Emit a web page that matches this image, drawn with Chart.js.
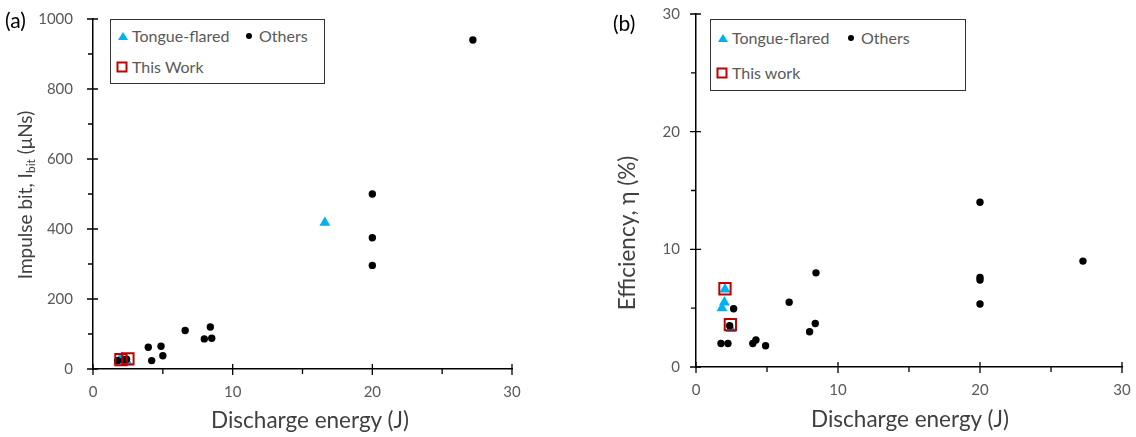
<!DOCTYPE html>
<html lang="en">
<head>
  <meta charset="UTF-8" />
  <title>Discharge energy scatter</title>
  <script src="https://cdn.jsdelivr.net/npm/chart.js"></script>
  <style>
    body { margin: 0; background: #fff; width: 1136px; height: 437px; overflow: hidden; position: relative; font-family: Lato, sans-serif; }
    canvas { position: absolute; top: 0; display: block; }
    .abs { position: absolute; white-space: nowrap; line-height: 1; }
    .panel { color: #000; font-size: 21px; }
    .ytitle { color: #404040; transform: translate(-50%, -50%) rotate(-90deg); }
    .ytitle sub { font-size: 12px; vertical-align: -3px; }
    .xtitle { color: #404040; font-size: 22.5px; transform: translate(-50%, -50%); }
    .box { position: absolute; border: 1.5px solid #333; background: #fff; box-sizing: border-box; }
    .leg { color: #595959; font-size: 16px; transform: translateY(-50%); }
    .tri { position: absolute; width: 0; height: 0; border-left: 5px solid transparent; border-right: 5px solid transparent; border-bottom: 8px solid #00B0F0; transform: translate(-50%, -50%); }
    .dot { position: absolute; width: 6px; height: 6px; border-radius: 50%; background: #000; transform: translate(-50%, -50%); }
    .sq { position: absolute; width: 11px; height: 11px; border: 2px solid #C00000; box-sizing: border-box; transform: translate(-50%, -50%); }
  </style>
</head>
<body>
  <canvas id="chartA" width="560" height="437" style="left:0"></canvas>
  <canvas id="chartB" width="536" height="437" style="left:600px"></canvas>

  <div class="abs panel" style="left:5px;top:9px">(a)</div>
  <div class="abs panel" style="left:613px;top:12px">(b)</div>

  <div class="abs ytitle" style="left:26px;top:195px;font-size:19px">Impulse bit, I<sub>bit</sub> (μNs)</div>
  <div class="abs ytitle" style="left:627px;top:233px;font-size:22.5px">Efficiency, η (%)</div>
  <div class="abs xtitle" style="left:310px;top:420px">Discharge energy (J)</div>
  <div class="abs xtitle" style="left:910px;top:419px">Discharge energy (J)</div>

  <div class="box" style="left:110px;top:19px;width:215px;height:65px"></div>
  <div class="tri" style="left:123px;top:36px"></div>
  <div class="abs leg" style="left:132px;top:36px">Tongue-flared</div>
  <div class="dot" style="left:249px;top:36px"></div>
  <div class="abs leg" style="left:259px;top:36px">Others</div>
  <div class="sq" style="left:122px;top:67px"></div>
  <div class="abs leg" style="left:132px;top:67px">This Work</div>

  <div class="box" style="left:710px;top:19px;width:256px;height:72px"></div>
  <div class="tri" style="left:723px;top:38px"></div>
  <div class="abs leg" style="left:732px;top:38px">Tongue-flared</div>
  <div class="dot" style="left:851px;top:38px"></div>
  <div class="abs leg" style="left:861px;top:38px">Others</div>
  <div class="sq" style="left:722px;top:73px"></div>
  <div class="abs leg" style="left:732px;top:73px">This work</div>

  <script>
    // tick labels
    const energyTicks = [0, 10, 20, 30];
    const impulseTicks = [0, 200, 400, 600, 800, 1000];
    const efficiencyTicks = [0, 10, 20, 30];

    // (a) impulse bit vs discharge energy
    const othersEnergyA = [1.76, 2.25, 2.4, 3.96, 4.2, 4.87, 5.0, 6.6, 7.97, 8.4, 8.5, 20, 20, 20, 27.2];
    const othersImpulse = [24, 26, 28, 62, 24, 65, 38, 110, 86, 120, 88, 500, 375, 296, 940];
    const tongueEnergyA = [1.83, 2.0, 2.04, 2.46, 16.6];
    const tongueImpulse = [22, 28, 32, 20, 418];
    const thisWorkEnergyA = [2.0, 2.5];
    const thisWorkImpulse = [27, 29];

    // (b) efficiency vs discharge energy
    const othersEnergyB = [1.76, 2.25, 2.37, 2.65, 4.0, 4.22, 4.9, 6.56, 8.0, 8.4, 8.45, 20, 20, 20, 20, 27.25];
    const othersEfficiency = [2.0, 2.0, 3.5, 4.95, 2.0, 2.3, 1.8, 5.5, 3.0, 3.7, 8.0, 14.0, 7.6, 7.4, 5.35, 9.0];
    const tongueEnergyB = [2.04, 2.0, 1.83, 2.46];
    const tongueEfficiency = [6.6, 5.5, 5.0, 3.25];
    const thisWorkEnergyB = [2.04, 2.42];
    const thisWorkEfficiency = [6.65, 3.6];

    function toPoints(xs, ys) {
      return xs.map((x, i) => ({ x: x, y: ys[i] }));
    }

    // first dataset is painted on top
    function makeDatasets(others, tongue, thisWork) {
      return [
        { label: 'This Work', data: thisWork, pointStyle: 'rect', pointRadius: 8, backgroundColor: 'rgba(0,0,0,0)', borderColor: '#C00000', borderWidth: 2 },
        { label: 'Others', data: others, pointStyle: 'circle', pointRadius: 3.7, backgroundColor: '#000', borderColor: '#000', borderWidth: 0 },
        { label: 'Tongue-flared', data: tongue, pointStyle: 'triangle', pointRadius: 6.3, backgroundColor: '#00B0F0', borderColor: '#00B0F0', borderWidth: 0 }
      ];
    }

    // major ticks cross the axis, minor ticks sit outside only
    const axisTicks = {
      id: 'axisTicks',
      afterDraw(chart) {
        const ctx = chart.ctx;
        const xs = chart.scales.x, ys = chart.scales.y;
        const axisY = ys.getPixelForValue(ys.min);
        const axisX = xs.getPixelForValue(xs.min);
        ctx.save();
        ctx.strokeStyle = '#000';
        ctx.lineWidth = 1.3;
        ctx.beginPath();
        const xv = xs.ticks.map(t => t.value);
        xv.forEach((v, i) => {
          const px = xs.getPixelForValue(v);
          ctx.moveTo(px, axisY - 5); ctx.lineTo(px, axisY + 6);
          if (i < xv.length - 1) {
            const mx = xs.getPixelForValue((v + xv[i + 1]) / 2);
            ctx.moveTo(mx, axisY); ctx.lineTo(mx, axisY + 5);
          }
        });
        const yv = ys.ticks.map(t => t.value);
        yv.forEach((v, i) => {
          const py = ys.getPixelForValue(v);
          ctx.moveTo(axisX - 6, py); ctx.lineTo(axisX + 5, py);
          if (i < yv.length - 1) {
            const my = ys.getPixelForValue((v + yv[i + 1]) / 2);
            ctx.moveTo(axisX - 5, my); ctx.lineTo(axisX, my);
          }
        });
        ctx.stroke();
        ctx.restore();
      }
    };

    function makeChart(id, datasets, yTicks, yMax, opts) {
      return new Chart(document.getElementById(id), {
        type: 'scatter',
        data: { datasets: datasets },
        options: {
          responsive: false,
          animation: false,
          devicePixelRatio: 1,
          layout: { padding: { top: opts.top, right: opts.right, left: 0, bottom: 0 } },
          plugins: { legend: { display: false }, tooltip: { enabled: false } },
          scales: {
            x: {
              type: 'linear', min: 0, max: 30,
              afterBuildTicks: s => { s.ticks = energyTicks.map(v => ({ value: v })); },
              afterFit: s => { s.height = opts.xHeight; s.paddingLeft = 0; s.paddingRight = 0; },
              grid: { display: false, drawTicks: false },
              border: { display: true, color: '#000', width: 1.5 },
              ticks: { color: '#595959', font: { family: 'Lato', size: 15 }, padding: 14, maxRotation: 0, autoSkip: false, callback: v => String(v) }
            },
            y: {
              type: 'linear', min: 0, max: yMax,
              afterBuildTicks: s => { s.ticks = yTicks.map(v => ({ value: v })); },
              afterFit: s => { s.width = opts.yWidth; s.paddingTop = 0; s.paddingBottom = 0; },
              grid: { display: false, drawTicks: false },
              border: { display: true, color: '#000', width: 1.5 },
              ticks: { color: '#595959', font: { family: 'Lato', size: 15 }, padding: opts.yPad, autoSkip: false, callback: v => String(v) }
            }
          }
        },
        plugins: [axisTicks]
      });
    }

    makeChart('chartA',
      makeDatasets(toPoints(othersEnergyA, othersImpulse), toPoints(tongueEnergyA, tongueImpulse), toPoints(thisWorkEnergyA, thisWorkImpulse)),
      impulseTicks, 1000, { top: 19, right: 48, xHeight: 68, yWidth: 93, yPad: 20 });

    makeChart('chartB',
      makeDatasets(toPoints(othersEnergyB, othersEfficiency), toPoints(tongueEnergyB, tongueEfficiency), toPoints(thisWorkEnergyB, thisWorkEfficiency)),
      efficiencyTicks, 30, { top: 14, right: 14, xHeight: 70, yWidth: 96, yPad: 16 });
  </script>
</body>
</html>
